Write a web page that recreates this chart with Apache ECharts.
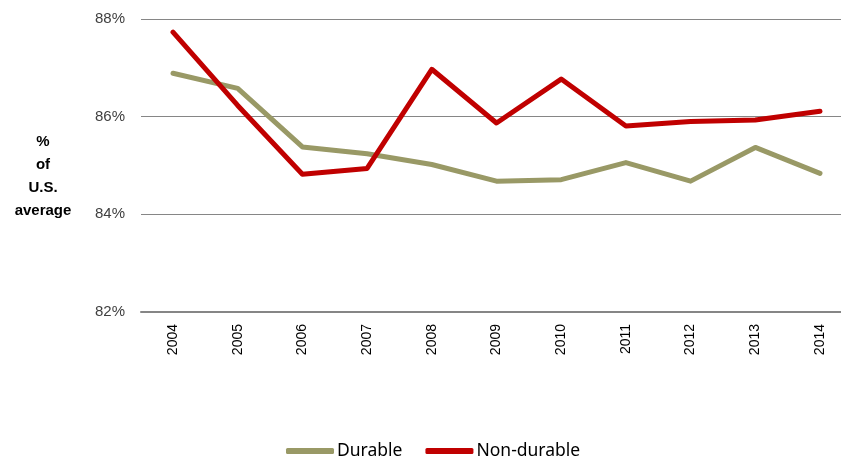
<!DOCTYPE html>
<html><head><meta charset="utf-8">
<script src="https://cdn.jsdelivr.net/npm/echarts@6/dist/echarts.min.js"></script>
<style>html,body{margin:0;padding:0;background:#fff}#c{width:841px;height:460px}</style>
</head><body><div id="c"></div>
<script>
const years = ['2004','2005','2006','2007','2008','2009','2010','2011','2012','2013','2014'];
const durable = [86.89, 86.58, 85.38, 85.24, 85.02, 84.68, 84.71, 85.06, 84.68, 85.37, 84.84];
const nonDurable = [87.73, 86.23, 84.82, 84.94, 86.97, 85.87, 86.77, 85.81, 85.90, 85.93, 86.11];
const yTicks = [82, 84, 86, 88];
const axisTitle = '%\nof\nU.S.\naverage';

const chart = echarts.init(document.getElementById('c'));
const yMin = yTicks[0], yMax = yTicks[yTicks.length-1];
chart.setOption({
  animation: false,
  title: {
    text: axisTitle, left: 38, top: 125, textAlign: 'center',
    textStyle: {fontFamily: 'Liberation Sans', fontWeight: 'bold', fontSize: 15, lineHeight: 23, color: '#000'}
  },
  grid: [
    {left: 141, right: 0, top: 19, bottom: 148},
    {left: 173, right: 21, top: 19, bottom: 148}
  ],
  legend: {
    top: 437, left: 281,
    itemWidth: 48, itemHeight: 6, itemGap: 23, icon: 'roundRect',
    textStyle: {fontFamily: 'Noto Sans', fontSize: 17.5, color: '#000', padding: [0,0,0,-2]},
    data: ['Durable', 'Non-durable']
  },
  xAxis: [
    {
      gridIndex: 0, type: 'category', data: years, boundaryGap: true,
      axisLine: {lineStyle: {color: '#868686', width: 2}},
      axisTick: {show: false}, axisLabel: {show: false}
    },
    {
      gridIndex: 1, type: 'category', data: years, boundaryGap: false,
      axisLine: {show: false}, axisTick: {show: false}, splitLine: {show: false},
      axisLabel: {rotate: 90, margin: 12, fontFamily: 'Liberation Sans', fontSize: 14, color: '#000'}
    }
  ],
  yAxis: [
    {
      gridIndex: 0, type: 'value', min: yMin, max: yMax, interval: 2,
      axisLine: {show: false}, axisTick: {show: false},
      splitLine: {lineStyle: {color: '#868686', width: 1}},
      axisLabel: {formatter: v => v + '%', margin: 16, fontFamily: 'Liberation Sans', fontSize: 15, color: '#404040'}
    },
    {
      gridIndex: 1, type: 'value', min: yMin, max: yMax, interval: 2,
      axisLine: {show: false}, axisTick: {show: false}, splitLine: {show: false}, axisLabel: {show: false}
    }
  ],
  series: [
    {name: 'Durable', type: 'line', xAxisIndex: 1, yAxisIndex: 1, data: durable, symbol: 'none', lineStyle: {width: 5, color: '#999966', cap: 'round', join: 'round'}, itemStyle: {color: '#999966'}},
    {name: 'Non-durable', type: 'line', xAxisIndex: 1, yAxisIndex: 1, data: nonDurable, symbol: 'none', lineStyle: {width: 5, color: '#C00000', cap: 'round', join: 'round'}, itemStyle: {color: '#C00000'}}
  ]
});
</script></body></html>
